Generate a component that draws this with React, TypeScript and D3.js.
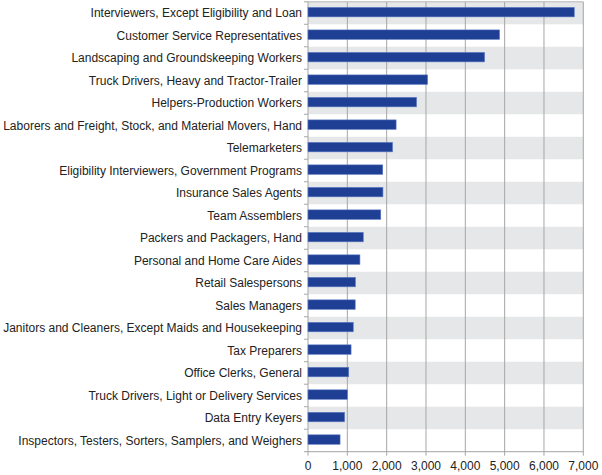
import React from "react";
import * as d3 from "d3";

const categories = [
  "Interviewers, Except Eligibility and Loan",
  "Customer Service Representatives",
  "Landscaping and Groundskeeping Workers",
  "Truck Drivers, Heavy and Tractor-Trailer",
  "Helpers-Production Workers",
  "Laborers and Freight, Stock, and Material Movers, Hand",
  "Telemarketers",
  "Eligibility Interviewers, Government Programs",
  "Insurance Sales Agents",
  "Team Assemblers",
  "Packers and Packagers, Hand",
  "Personal and Home Care Aides",
  "Retail Salespersons",
  "Sales Managers",
  "Janitors and Cleaners, Except Maids and Housekeeping",
  "Tax Preparers",
  "Office Clerks, General",
  "Truck Drivers, Light or Delivery Services",
  "Data Entry Keyers",
  "Inspectors, Testers, Sorters, Samplers, and Weighers",
];

const values = [
  6770, 4870, 4490, 3040, 2760, 2240, 2150, 1900, 1905, 1850, 1405, 1320,
  1205, 1200, 1150, 1095, 1035, 1000, 930, 815,
];

const xTicks = [0, 1000, 2000, 3000, 4000, 5000, 6000, 7000];

const W = 602;
const H = 475;
const left = 308;
const right = 583.3;
const top = 1.8;
const bottom = 451.7;

export default function App() {
  const x = d3.scaleLinear().domain([0, 7000]).range([left, right]);
  const y = d3
    .scaleBand<string>()
    .domain(categories)
    .range([top, bottom])
    .paddingInner(0)
    .paddingOuter(0);
  const bw = y.bandwidth();
  const barH = bw * 0.42;
  const fmt = d3.format(",");
  const font = "'Liberation Sans', Arial, Helvetica, sans-serif";

  return (
    <div style={{ position: "absolute", left: 0, top: 0 }}>
      <svg width={W} height={H} style={{ display: "block" }}>
        <rect x={0} y={0} width={W} height={H} fill="#fff" />
        {categories.map((c, i) =>
          i % 2 === 0 ? (
            <rect
              key={"band" + i}
              x={left}
              y={y(c)!}
              width={right - left}
              height={bw}
              fill="#E6E7E8"
            />
          ) : null
        )}
        {xTicks.map((t) => (
          <line
            key={"g" + t}
            x1={x(t)}
            x2={x(t)}
            y1={top}
            y2={bottom + 4}
            stroke="#A6A6A6"
            strokeWidth={1}
          />
        ))}
        <line x1={left} x2={right} y1={top} y2={top} stroke="#B5B5B5" strokeWidth={1} />
        <line x1={left} x2={right} y1={bottom} y2={bottom} stroke="#A6A6A6" strokeWidth={1} />
        {categories.map((c, i) => (
          <line
            key={"yt" + i}
            x1={left - 4}
            x2={left}
            y1={y(c)!}
            y2={y(c)!}
            stroke="#A6A6A6"
            strokeWidth={1}
          />
        ))}
        <line x1={left - 4} x2={left} y1={bottom} y2={bottom} stroke="#A6A6A6" strokeWidth={1} />
        {categories.map((c, i) => (
          <rect
            key={"bar" + i}
            x={x(0)}
            y={y(c)! + bw / 2 - barH / 2 - 0.9}
            width={x(values[i]) - x(0)}
            height={barH}
            fill="#1E3F93"
            stroke="#5A79C4"
            strokeWidth={0.6}
          />
        ))}
        {categories.map((c) => (
          <text
            key={"lab" + c}
            x={left - 6}
            y={y(c)! + bw / 2}
            dy="0.35em"
            textAnchor="end"
            fontFamily={font}
            fontSize={12}
            fill="#222"
          >
            {c}
          </text>
        ))}
        {xTicks.map((t) => (
          <text
            key={"xl" + t}
            x={x(t)}
            y={bottom + 18}
            textAnchor="middle"
            fontFamily={font}
            fontSize={12}
            fill="#222"
          >
            {fmt(t)}
          </text>
        ))}
      </svg>
    </div>
  );
}
